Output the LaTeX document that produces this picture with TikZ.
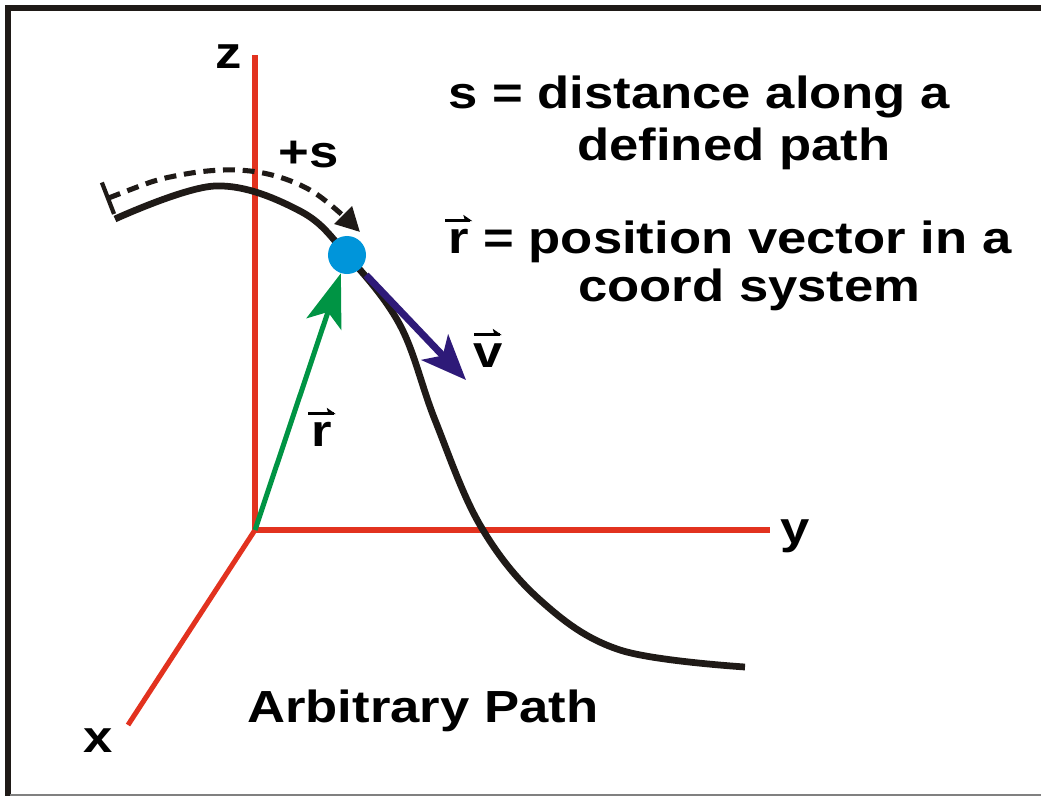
\documentclass[tikz,border=0pt]{standalone}
\usepackage{fontspec}
\setmainfont{Liberation Sans}[BoldFeatures={FakeStretch=1.17}]
\usetikzlibrary{arrows.meta}
\definecolor{axisred}{HTML}{E2321F}
\definecolor{pathblack}{HTML}{1F1A17}
\definecolor{dotblue}{HTML}{0095DA}
\definecolor{rgreen}{HTML}{009444}
\definecolor{vpurple}{HTML}{2E1A78}
% letter with a harpoon above it
\newcommand{\harp}[1]{\leavevmode\ooalign{#1\cr\hidewidth\raisebox{0.68em}{\tikz[x=1em, y=1em]{\fill (-0.05,0) rectangle (0.52,0.065); \fill (0.56,0.03) -- (0.36,0.17) -- (0.40,0.03) -- cycle;}}\hidewidth\cr}}

\begin{document}
\begin{tikzpicture}[x=0.025cm, y=-0.025cm,
    axis/.style={draw=axisred, line width=3.6pt},
    pathline/.style={draw=pathblack, line width=4.8pt},
    lbl/.style={font=\fontsize{32}{36}\selectfont\bfseries, inner sep=0pt, anchor=base},
    txt/.style={lbl, anchor=base west}]
  \useasboundingbox (0,0) rectangle (1041,796);
  % frame
  \draw[line width=4.3pt, pathblack] (8,796) -- (8,8) -- (1041,8);
  \draw[line width=1.5pt, gray] (10,795) -- (1041,795);
  % axes
  \coordinate (O) at (255,530);
  \coordinate (ztop) at (255,55);
  \coordinate (yend) at (770,530);
  \coordinate (xend) at (128,725);
  \draw[axis] (ztop) -- (O) -- (yend);
  \draw[axis] (O) -- (xend);
  \node[lbl] (zl) at (229,68) {z};
  \node[lbl] (yl) at (795,543) {y};
  \node[lbl] (xl) at (98,752) {x};
  % the path
  \draw[pathline] plot[smooth, tension=0.6] coordinates {(115,219) (215,186) (300,211) (347,255) (400,325) (435,420) (480,525) (540,600) (620,650) (745,667)};
  % distance s
  \draw[pathblack, line width=3.6pt, dash pattern=on 8.5pt off 5.5pt, {Bar[width=24pt, line width=3pt]}-{Triangle[length=17pt, width=17pt]}]
    plot[smooth, tension=0.6] coordinates {(106,199) (180,175) (250,171) (310,190) (360,232)};
  \node[lbl] (sl) at (309,167) {+s};
  % point and vectors
  \node[circle, fill=dotblue, minimum size=0.95cm, inner sep=0pt] (P) at (347,255) {};
  \coordinate (vtip) at (466,380);
  \draw[rgreen, line width=3.6pt, -{Stealth[length=38pt, width=26pt, inset=9pt]}] (O) -- (P);
  \draw[vpurple, line width=5pt, shorten <=6pt, -{Stealth[length=32pt, width=26pt, inset=8pt]}] (P) -- (vtip);
  \node[lbl] (vl) at (488,367) {\harp{v}};
  \node[lbl] (rl) at (322,446) {\harp{r}};
  % text
  \node[txt] (t1) at (448,108) {s = distance along a};
  \node[txt] (t2) at (577,160) {defined path};
  \node[txt] (t3) at (448,253) {\harp{r} = position vector in a};
  \node[txt] (t4) at (578,301) {coord system};
  \node[txt] (ap) at (247,722) {Arbitrary Path};
\end{tikzpicture}
\end{document}
